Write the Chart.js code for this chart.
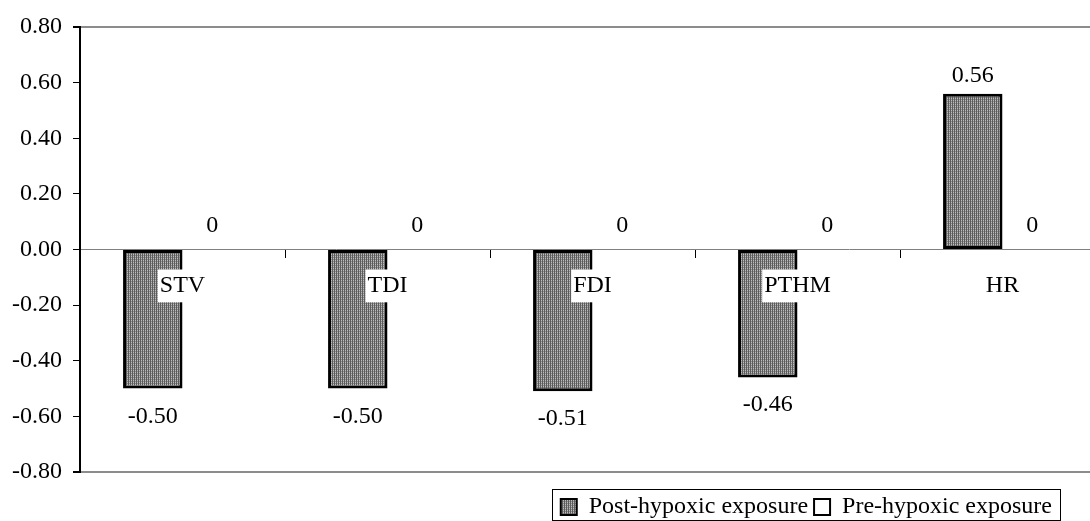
<!DOCTYPE html>
<html>
<head>
<meta charset="utf-8">
<script src="https://cdn.jsdelivr.net/npm/chart.js@4.4.1/dist/chart.umd.min.js"></script>
<style>
    html, body { margin: 0; padding: 0; background: #fff; overflow: hidden; }
    #wrap { width: 1090px; height: 521px; overflow: hidden; }
</style>
</head>
<body>
<div id="wrap"><canvas id="graph1" width="1105" height="521"></canvas></div>
<script>
const categories = ['STV', 'TDI', 'FDI', 'PTHM', 'HR'];
const postHypoxic = [-0.50, -0.50, -0.51, -0.46, 0.56];
const preHypoxic = [0, 0, 0, 0, 0];
const seriesNames = ['Post-hypoxic exposure', 'Pre-hypoxic exposure'];
const yMin = -0.8;
const yMax = 0.8;
const yStep = 0.2;

const FONT = "'Liberation Serif', 'Times New Roman', serif";
Chart.defaults.font.family = FONT;
Chart.defaults.font.size = 24;
Chart.defaults.color = '#000';

// grey stippled fill like the old excel bars
function makePattern() {
    const c = document.createElement('canvas');
    c.width = 2;
    c.height = 2;
    const g = c.getContext('2d');
    const px = [
        ['#5c5c5c', '#bdbdbd'],
        ['#5c5c5c', '#8a8a8a']
    ];
    px.forEach((row, y) => row.forEach((col, x) => {
        g.fillStyle = col;
        g.fillRect(x, y, 1, 1);
    }));
    return g.createPattern(c, 'repeat');
}

const isEdge = (v) => Math.abs(Math.abs(v) - yMax) < 1e-6;

// value labels above / below each bar
const valueLabels = {
    id: 'valueLabels',
    afterDatasetsDraw(chart) {
        const ctx = chart.ctx;
        ctx.save();
        ctx.font = '24px ' + FONT;
        ctx.fillStyle = '#000';
        ctx.textAlign = 'center';
        ctx.textBaseline = 'alphabetic';
        chart.data.datasets.forEach((ds, di) => {
            chart.getDatasetMeta(di).data.forEach((bar, i) => {
                const v = ds.data[i];
                if (di === 0) {
                    ctx.fillText(v.toFixed(2), bar.x, v >= 0 ? bar.y - 12 : bar.y + 34);
                } else {
                    ctx.fillText(String(v), bar.x, bar.y - 18);
                }
            });
        });
        ctx.restore();
    }
};

// move legend into place and draw the frame round it
const legendFrame = {
    id: 'legendFrame',
    afterUpdate(chart) {
        const lg = chart.legend;
        const dx = -47, dy = 17;
        lg.left += dx; lg.right += dx;
        lg.top += dy; lg.bottom += dy;
        lg.legendHitBoxes.forEach((h) => { h.left += dx; h.top += dy; });
    },
    afterDraw(chart) {
        const boxes = chart.legend.legendHitBoxes;
        const first = boxes[0];
        const last = boxes[boxes.length - 1];
        const x0 = Math.round(first.left - 9) + 0.5;
        const x1 = Math.round(last.left + last.width + 8) + 0.5;
        const y0 = Math.round(first.top - 6) + 0.5;
        const y1 = Math.round(first.top + first.height + 1) + 0.5;
        const ctx = chart.ctx;
        ctx.save();
        ctx.strokeStyle = '#000';
        ctx.lineWidth = 1;
        ctx.strokeRect(x0, y0, x1 - x0, y1 - y0);
        ctx.restore();
    }
};

function configureChart() {
    const pattern = makePattern();

    const data = {
        labels: categories,
        datasets: [{
            label: seriesNames[0],
            data: postHypoxic,
            backgroundColor: pattern,
            borderColor: '#000',
            borderWidth: 3,
            borderSkipped: false,
            categoryPercentage: 0.58,
            barPercentage: 1
        }, {
            label: seriesNames[1],
            data: preHypoxic,
            backgroundColor: '#fff',
            borderColor: '#000',
            borderWidth: 0,
            categoryPercentage: 0.58,
            barPercentage: 1
        }]
    };

    const config = {
        type: 'bar',
        data: data,
        options: {
            responsive: false,
            animation: false,
            layout: { padding: { top: 27, left: 0, right: 0, bottom: 9 } },
            plugins: {
                tooltip: { enabled: false },
                legend: {
                    position: 'bottom',
                    align: 'end',
                    labels: {
                        boxWidth: 16,
                        boxHeight: 16,
                        padding: 6,
                        font: { size: 24 },
                        generateLabels: (chart) => Chart.defaults.plugins.legend.labels
                            .generateLabels(chart)
                            .map((item) => ({ ...item, lineWidth: 2, strokeStyle: '#000' }))
                    }
                }
            },
            scales: {
                x: {
                    position: { y: 0 },
                    offset: true,
                    grid: {
                        offset: true,
                        drawOnChartArea: false,
                        tickLength: 8,
                        tickColor: '#000',
                        tickWidth: 1
                    },
                    border: { color: '#808080', width: 1 },
                    ticks: {
                        z: 1,
                        padding: 14,
                        autoSkip: false,
                        maxRotation: 0,
                        showLabelBackdrop: true,
                        backdropColor: '#fff',
                        backdropPadding: 2
                    }
                },
                y: {
                    min: yMin,
                    max: yMax,
                    afterFit: (scale) => { scale.width = 80; },
                    ticks: {
                        stepSize: yStep,
                        padding: 11,
                        callback: (v) => (Math.abs(v) < 1e-9 ? 0 : v).toFixed(2)
                    },
                    grid: {
                        color: (ctx) => isEdge(ctx.tick.value) ? '#8c8c8c' : 'rgba(0,0,0,0)',
                        lineWidth: (ctx) => isEdge(ctx.tick.value) ? 2 : 1,
                        tickColor: '#000',
                        tickLength: 7
                    },
                    border: { color: '#000', width: 2 }
                }
            }
        },
        plugins: [valueLabels, legendFrame]
    };

    const ctx = document.getElementById('graph1').getContext('2d');
    new Chart(ctx, config);
}

configureChart();
</script>
</body>
</html>
